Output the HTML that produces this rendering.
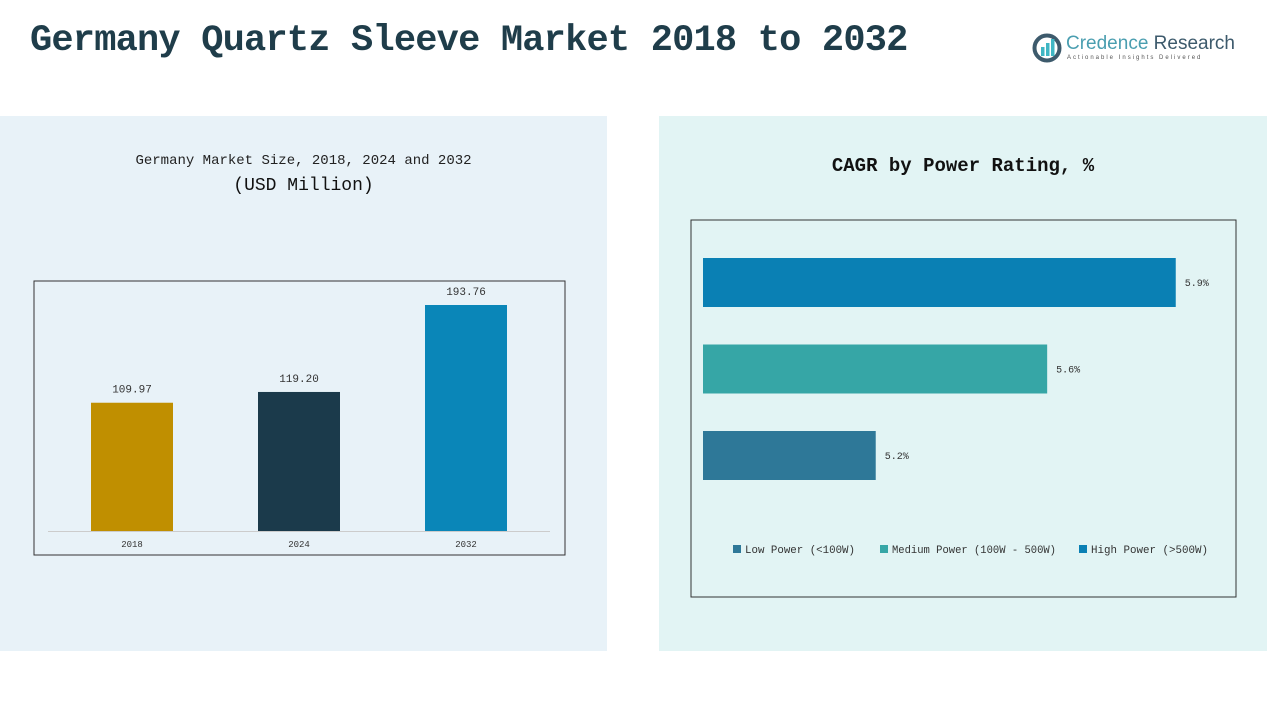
<!DOCTYPE html>
<html><head><meta charset="utf-8"><style>
body{margin:0;width:1267px;height:713px;background:#fff;position:relative;overflow:hidden;font-family:"Liberation Mono","Noto Sans CJK SC",monospace;}
.abs{position:absolute}
</style></head><body>
<div class="abs" style="left:30px;top:20px;font-size:37px;color:#1f3d4a;font-family:'Liberation Mono','Noto Serif CJK SC',monospace;font-weight:bold;letter-spacing:-0.8px;white-space:nowrap">Germany Quartz Sleeve Market 2018 to 2032</div>
<div class="abs" style="left:1032px;top:33px;width:205px;height:36px">
<svg width="30" height="30" style="position:absolute;left:0;top:0"><circle cx="15" cy="15" r="12.5" fill="none" stroke="#3d5a6c" stroke-width="4"/><rect x="9" y="14" width="3.5" height="9" fill="#3fb6c4"/><rect x="14" y="10" width="3.5" height="13" fill="#3fb6c4"/><rect x="19" y="6" width="3.5" height="17" fill="#3fb6c4"/></svg>
<div class="abs" style="left:34px;top:0;font-family:'Liberation Sans',sans-serif;font-size:19px;color:#4a9eb0;white-space:nowrap">Credence <span style="color:#3d5a6c">Research</span></div>
<div class="abs" style="left:35px;top:22px;font-family:'Liberation Sans',sans-serif;font-size:6px;letter-spacing:2px;color:#555;white-space:nowrap">Actionable Insights Delivered</div>
</div>
<div class="abs" style="left:0;top:116px;width:607px;height:535px;background:#e8f2f8"></div>
<div class="abs" style="left:659px;top:116px;width:608px;height:535px;background:#e2f4f4"></div>
<div class="abs" style="left:0;width:607px;top:153px;text-align:center;font-size:14px;color:#222">Germany Market Size, 2018, 2024 and 2032</div>
<div class="abs" style="left:0;width:607px;top:176px;text-align:center;font-size:18px;color:#111">(USD Million)</div>
<div class="abs" style="left:659px;width:608px;top:155px;text-align:center;font-size:19px;font-weight:bold;color:#111">CAGR by Power Rating, %</div>
<svg class="abs" style="left:0;top:0" width="1267" height="713" id="svg">
<rect x="34" y="281" width="531" height="274" fill="none" stroke="#333" stroke-width="1"/>
<line x1="48" y1="531.5" x2="550" y2="531.5" stroke="#ccc"/>
<rect x="691" y="220" width="545" height="377" fill="none" stroke="#333" stroke-width="1"/>
<g id="left"></g><g id="right"></g>
</svg>
<script>
const years=["2018","2024","2032"];
const sizes=[109.97,119.20,193.76];
const sizeLabels=["109.97","119.20","193.76"];
const barColors=["#c08f00","#1b3a4b","#0a86b8"];
const segs=["High Power (>500W)","Medium Power (100W - 500W)","Low Power (<100W)"];
const cagr=[5.9,5.6,5.2];
const cagrLabels=["5.9%","5.6%","5.2%"];
const segColors=["#0a80b4","#36a6a6","#2e7898"];
const NS="http://www.w3.org/2000/svg";
function mk(t,a,p){const e=document.createElementNS(NS,t);for(const k in a)e.setAttribute(k,a[k]);p.appendChild(e);return e;}
const L=document.getElementById('left');
const yS=v=>531-v*(226/193.76);
const xC=i=>132+i*167;
years.forEach((y,i)=>{
 const r=mk('rect',{x:xC(i)-41,y:yS(sizes[i]),width:82,height:531-yS(sizes[i]),fill:barColors[i]},L);
 
 
 const t=mk('text',{x:xC(i),y:yS(sizes[i])-10,'text-anchor':'middle','font-size':11,fill:'#333'},L);t.textContent=sizeLabels[i];
 
 
 const x=mk('text',{x:xC(i),y:547,'text-anchor':'middle','font-size':9,fill:'#333'},L);x.textContent=y;
 
 
});
const R=document.getElementById('right');
const xS=v=>703+(v-4.797)*428.6;
const yR=i=>258+i*86.5;
segs.forEach((s,i)=>{
 const r=mk('rect',{x:703,y:yR(i),width:xS(cagr[i])-703,height:49,fill:segColors[i]},R);
 
 
 const t=mk('text',{x:xS(cagr[i])+9,y:yR(i)+28,'font-size':10,fill:'#333'},R);t.textContent=cagrLabels[i];
 
 
});
const leg=[[2,733],[1,880],[0,1079]];
leg.forEach(([i,x])=>{
 const g=mk('g',{},R);
 
 
 mk('rect',{x:x,y:545,width:8,height:8,fill:segColors[i]},g);
 const t=mk('text',{x:x+12,y:553,'font-size':11,fill:'#333','textLength':(i==1?164:(i==2?110:117)),'lengthAdjust':'spacingAndGlyphs'},g);t.textContent=segs[i];
});
</script>
</body></html>
